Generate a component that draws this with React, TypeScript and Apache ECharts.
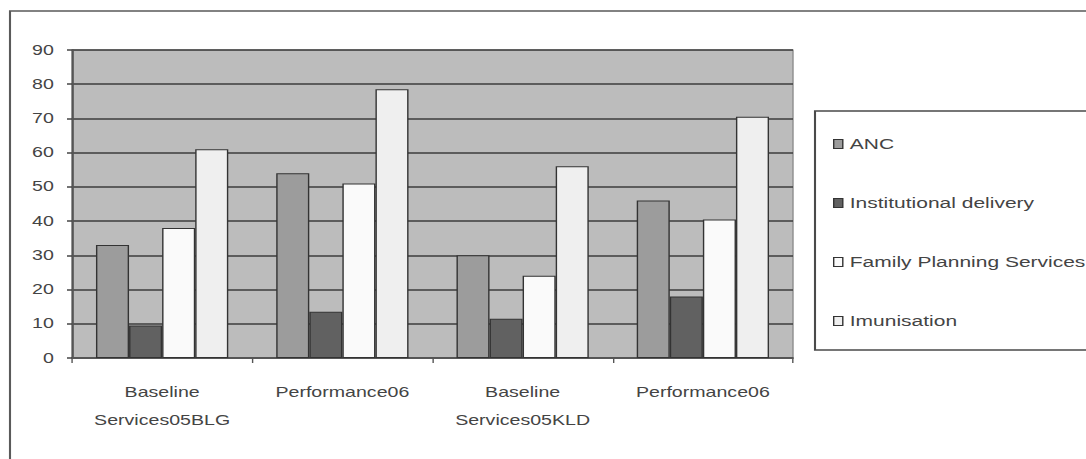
import { useEffect, useRef } from "react";
import * as echarts from "echarts";

// Category labels (two-line where the original label wraps)
const categories = [
  "Baseline\nServices05BLG",
  "Performance06",
  "Baseline\nServices05KLD",
  "Performance06",
];

// Percentage values per service
const ancValues = [33, 54, 30, 46];
const institutionalValues = [9.5, 13.5, 11.5, 18];
const familyPlanningValues = [38, 51, 24, 40.5];
const imunisationValues = [61, 78.5, 56, 70.5];

const seriesNames = ["ANC", "Institutional delivery", "Family Planning Services", "Imunisation"];
const seriesValues = [ancValues, institutionalValues, familyPlanningValues, imunisationValues];
const seriesColors = ["#9c9c9c", "#616161", "#fafafa", "#efefef"];

const yTickValues = [0, 10, 20, 30, 40, 50, 60, 70, 80, 90];

// The chart is laid out on a narrower canvas and widened horizontally to the page width,
// which gives the broad, stretched lettering.
const PAGE_W = 1086;
const PAGE_H = 459;
const INNER_W = 776;
const SX = PAGE_W / INNER_W;
const ix = (x: number) => x / SX;

export default function App() {
  const ref = useRef<HTMLDivElement>(null);

  useEffect(() => {
    if (!ref.current) return;
    const chart = echarts.init(ref.current, null, {
      renderer: "svg",
      width: INNER_W,
      height: PAGE_H,
    });

    const font = "'Liberation Sans', Arial, sans-serif";
    const plotLeft = ix(72);
    const plotRight = ix(793);

    chart.setOption({
      animation: false,
      backgroundColor: "#ffffff",
      textStyle: { fontFamily: font },
      graphic: [
        {
          type: "rect",
          silent: true,
          z: -10,
          shape: { x: ix(10), y: 11, width: 900, height: 600 },
          style: { fill: "none", stroke: "#5a5a5a", lineWidth: 1.5 },
        },
        {
          type: "rect",
          silent: true,
          z: -10,
          shape: { x: ix(815), y: 111, width: 400, height: 239 },
          style: { fill: "#ffffff", stroke: "#4a4a4a", lineWidth: 1.5 },
        },
      ],
      grid: {
        left: plotLeft,
        top: 50,
        width: plotRight - plotLeft,
        height: 308,
        show: true,
        backgroundColor: "#bcbcbc",
        borderColor: "#8e8e8e",
        borderWidth: 1,
        containLabel: false,
      },
      legend: {
        orient: "vertical",
        left: ix(826),
        top: 131,
        icon: "rect",
        itemWidth: 6.5,
        itemHeight: 9,
        itemGap: 43,
        data: seriesNames,
        itemStyle: { borderColor: "#333333", borderWidth: 1 },
        textStyle: {
          fontFamily: font,
          fontSize: 15,
          lineHeight: 16,
          color: "#444444",
        },
      },
      xAxis: {
        type: "category",
        data: categories,
        boundaryGap: true,
        axisLine: { show: true, lineStyle: { color: "#555555", width: 1.5 } },
        axisTick: { show: true, length: 5, lineStyle: { color: "#555555", width: 1 } },
        axisLabel: {
          color: "#444444",
          fontFamily: font,
          fontSize: 14,
          lineHeight: 28,
          margin: 20,
          interval: 0,
        },
        splitLine: { show: false },
      },
      yAxis: {
        type: "value",
        min: yTickValues[0],
        max: yTickValues[yTickValues.length - 1],
        interval: 10,
        axisLine: { show: true, lineStyle: { color: "#555555", width: 1.5 } },
        axisTick: { show: true, inside: false, length: 3.6, lineStyle: { color: "#444444", width: 1.5 } },
        axisLabel: {
          color: "#444444",
          fontFamily: font,
          fontSize: 14,
          margin: 13,
        },
        splitLine: { show: true, lineStyle: { color: "#3c3c3c", width: 1.6 } },
      },
      series: seriesNames.map((name, i) => ({
        name,
        type: "bar",
        data: seriesValues[i],
        barGap: "0%",
        barCategoryGap: "26.6%",
        itemStyle: {
          color: seriesColors[i],
          borderColor: "#333333",
          borderWidth: 1,
        },
      })),
    });

    return () => chart.dispose();
  }, []);

  return (
    <div
      style={{
        position: "fixed",
        left: 0,
        top: 0,
        width: PAGE_W,
        height: PAGE_H,
        overflow: "hidden",
        background: "#ffffff",
      }}
    >
      <div
        ref={ref}
        style={{
          width: INNER_W,
          height: PAGE_H,
          transform: `scaleX(${SX})`,
          transformOrigin: "0 0",
        }}
      />
    </div>
  );
}
